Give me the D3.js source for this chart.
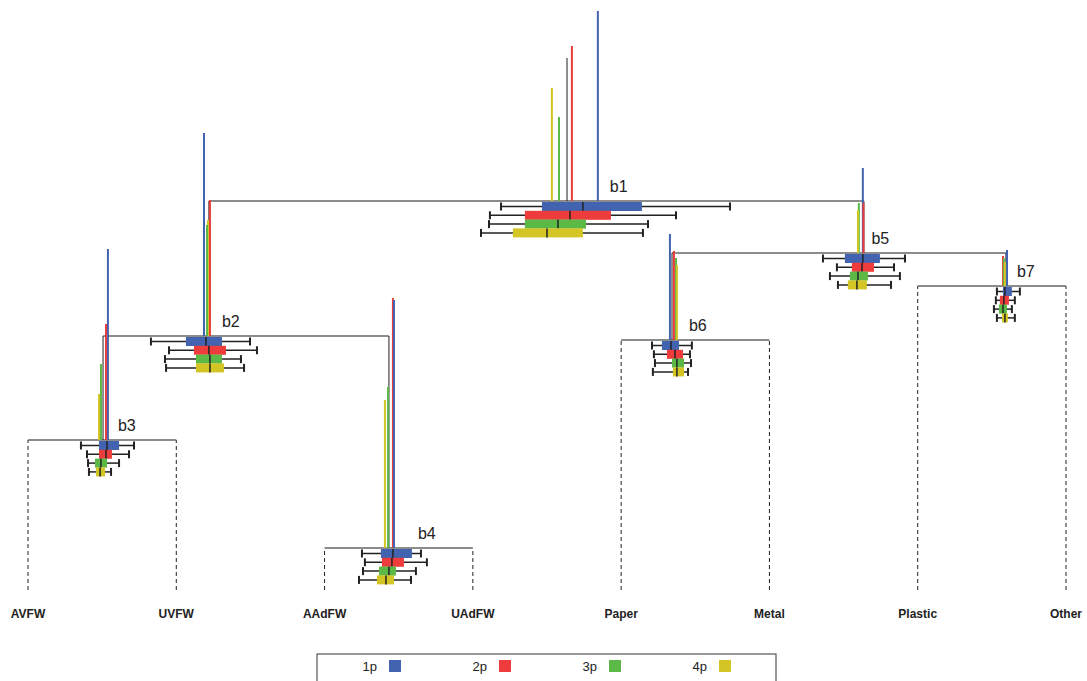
<!DOCTYPE html>
<html><head><meta charset="utf-8">
<script src="https://cdn.jsdelivr.net/npm/d3@7"></script>
<style>body{margin:0;background:#fff}</style>
</head><body><svg id="chart"></svg>
<script>
const width = 1087, height = 681
const seriesNames = ['1p', '2p', '3p', '4p']
const seriesColors = ['#4264b0', '#ee3b3b', '#5cb946', '#d3c524']

const leafNames = ['AVFW', 'UVFW', 'AAdFW', 'UAdFW', 'Paper', 'Metal', 'Plastic', 'Other']
const leafPos = [0, 10, 20, 30, 40, 50, 60, 70]

// balance nodes: name, left child, right child (leaf index or node name)
const nodeNames = ['b1', 'b2', 'b3', 'b4', 'b5', 'b6', 'b7']
const nodeLeft = ['b2', 'b3', 0, 2, 'b6', 4, 6]
const nodeRight = ['b5', 'b4', 1, 3, 'b7', 5, 7]
const nodeCenter = [36.35, 12.2, 5.06, 24.34, 56.37, 43.43, 65.95]
const nodeLevel = [38.9, 25.4, 15.0, 4.2, 33.7, 25.0, 30.4]
const labelShift = [12, 12, 10, 24, 8, 12, 10]
const rootTop = 53.2

// per-node series means (x of colored bar) and variances (bar top)
const seriesMean = [
  [38.43, 36.68, 35.81, 35.33],
  [11.87, 12.27, 12.07, 12.14],
  [5.39, 5.26, 4.92, 4.79],
  [24.68, 24.61, 24.28, 24.07],
  [56.3, 56.34, 56.03, 55.97],
  [43.29, 43.56, 43.7, 43.76],
  [66.02, 65.75, 65.81, 65.88]
]
const seriesVar = [
  [57.9, 54.4, 47.3, 50.2],
  [45.7, 39.0, 36.5, 37.0],
  [34.1, 26.6, 22.6, 19.6],
  [29.0, 29.2, 20.3, 19.0],
  [42.2, 38.7, 38.7, 38.0],
  [35.6, 33.9, 33.2, 32.5],
  [34.0, 33.4, 33.2, 32.8]
]
// per-node, per-series boxplot: [whisker low, q1, median, q3, whisker high]
const boxStats = [
  [[31.9, 34.66, 37.42, 41.4, 47.34], [31.15, 33.51, 36.55, 39.31, 43.7], [31.09, 33.51, 35.74, 37.63, 41.81], [30.55, 32.7, 35.0, 37.42, 41.47]],
  [[8.29, 10.65, 12.0, 13.08, 14.97], [9.51, 11.19, 12.2, 13.35, 15.44], [9.24, 11.33, 12.27, 13.08, 14.36], [9.31, 11.33, 12.27, 13.22, 14.57]],
  [[3.57, 4.79, 5.33, 6.14, 7.15], [3.98, 4.79, 5.26, 5.66, 6.81], [4.05, 4.52, 4.92, 5.33, 6.14], [4.11, 4.59, 4.86, 5.19, 5.6]],
  [[22.52, 23.8, 24.61, 25.89, 26.5], [22.72, 23.87, 24.54, 25.35, 26.9], [22.59, 23.67, 24.34, 24.81, 26.16], [22.32, 23.53, 24.14, 24.68, 25.83]],
  [[53.61, 55.09, 56.3, 57.45, 59.14], [54.55, 55.56, 56.24, 57.05, 58.4], [54.08, 55.43, 55.97, 56.64, 58.8], [54.62, 55.29, 55.9, 56.57, 58.2]],
  [[42.08, 42.75, 43.36, 43.9, 44.77], [42.21, 43.09, 43.63, 44.17, 44.64], [42.28, 43.43, 43.76, 44.24, 44.71], [42.14, 43.49, 43.76, 44.24, 44.51]],
  [[65.34, 65.75, 65.88, 66.35, 66.89], [65.27, 65.54, 65.81, 66.15, 66.55], [65.14, 65.48, 65.75, 66.02, 66.35], [65.34, 65.68, 65.88, 66.08, 66.55]]
]

const x = d3.scaleLinear().domain([0, 70]).range([28, 1066])
const y = d3.scaleLinear().domain([0, 58]).range([590, 10])
const color = d3.scaleOrdinal(seriesNames, seriesColors)

const svg = d3.select('#chart').attr('width', width).attr('height', height)
  .style('font-family', 'Arial, "Liberation Sans", sans-serif')

const idx = (n) => nodeNames.indexOf(n)
const childX = (c) => typeof c === 'number' ? x(leafPos[c]) : x(nodeCenter[idx(c)])

// parent level for each node
const parentLevel = nodeNames.map((n) => {
  const p = nodeNames.findIndex((_, i) => nodeLeft[i] === n || nodeRight[i] === n)
  return p < 0 ? rootTop : nodeLevel[p]
})

const tree = svg.append('g')
// dashed leaf lines, node bars, connectors
nodeNames.forEach((n, i) => {
  ;[nodeLeft[i], nodeRight[i]].forEach((c) => {
    if (typeof c === 'number') {
      tree.append('line').attr('x1', x(leafPos[c])).attr('x2', x(leafPos[c]))
        .attr('y1', y(0)).attr('y2', y(nodeLevel[i]))
        .attr('stroke', '#222').attr('stroke-dasharray', '4,3')
    }
  })
  tree.append('line').attr('x1', childX(nodeLeft[i])).attr('x2', childX(nodeRight[i]))
    .attr('y1', y(nodeLevel[i])).attr('y2', y(nodeLevel[i]))
    .attr('stroke', '#666').attr('stroke-width', 1.3)
  tree.append('line').attr('x1', x(nodeCenter[i])).attr('x2', x(nodeCenter[i]))
    .attr('y1', y(nodeLevel[i])).attr('y2', y(parentLevel[i]))
    .attr('stroke', '#222').attr('stroke-width', 1)
})

// colored variance bars (tallest first so short ones stay visible)
nodeNames.forEach((n, i) => {
  const order = d3.range(4).sort((a, b) => seriesVar[i][b] - seriesVar[i][a])
  order.forEach((s) => {
    tree.append('line').attr('x1', x(seriesMean[i][s])).attr('x2', x(seriesMean[i][s]))
      .attr('y1', y(nodeLevel[i])).attr('y2', y(seriesVar[i][s]))
      .attr('stroke', color(seriesNames[s])).attr('stroke-width', 2)
  })
  tree.append('text').attr('x', x(d3.max(seriesMean[i])) + labelShift[i]).attr('y', y(nodeLevel[i]) - 9)
    .attr('font-size', 16).attr('fill', '#222').text(n)
})

// boxplots
const rowGap = 8.8, boxH = 9, capH = 8
nodeNames.forEach((n, i) => {
  boxStats[i].forEach((b, s) => {
    const cy = y(nodeLevel[i]) + 5.5 + s * rowGap
    const g = tree.append('g')
    g.append('line').attr('x1', x(b[0])).attr('x2', x(b[4])).attr('y1', cy).attr('y2', cy)
      .attr('stroke', '#222').attr('stroke-width', 1.5)
    ;[b[0], b[4]].forEach((v) => g.append('line').attr('x1', x(v)).attr('x2', x(v))
      .attr('y1', cy - capH / 2).attr('y2', cy + capH / 2).attr('stroke', '#222').attr('stroke-width', 2))
    g.append('rect').attr('x', x(b[1])).attr('width', x(b[3]) - x(b[1]))
      .attr('y', cy - boxH / 2).attr('height', boxH).attr('fill', color(seriesNames[s]))
    g.append('line').attr('x1', x(b[2])).attr('x2', x(b[2]))
      .attr('y1', cy - boxH / 2).attr('y2', cy + boxH / 2).attr('stroke', '#222').attr('stroke-width', 1.5)
  })
})

// leaf labels
svg.append('g').selectAll('text').data(leafNames).join('text')
  .attr('x', (d, i) => x(leafPos[i])).attr('y', 618).attr('text-anchor', 'middle')
  .attr('font-size', 12).attr('font-weight', 'bold').attr('fill', '#222').text((d) => d)

// legend
const lg = svg.append('g')
lg.append('rect').attr('x', 317).attr('y', 654).attr('width', 459).attr('height', 40)
  .attr('fill', 'none').attr('stroke', '#333')
const lx = d3.scalePoint().domain(seriesNames).range([377, 707])
seriesNames.forEach((s) => {
  lg.append('text').attr('x', lx(s)).attr('y', 671).attr('text-anchor', 'end')
    .attr('font-size', 13).attr('fill', '#222').text(s)
  lg.append('rect').attr('x', lx(s) + 12).attr('y', 660).attr('width', 12).attr('height', 12)
    .attr('fill', color(s))
})
</script></body></html>
